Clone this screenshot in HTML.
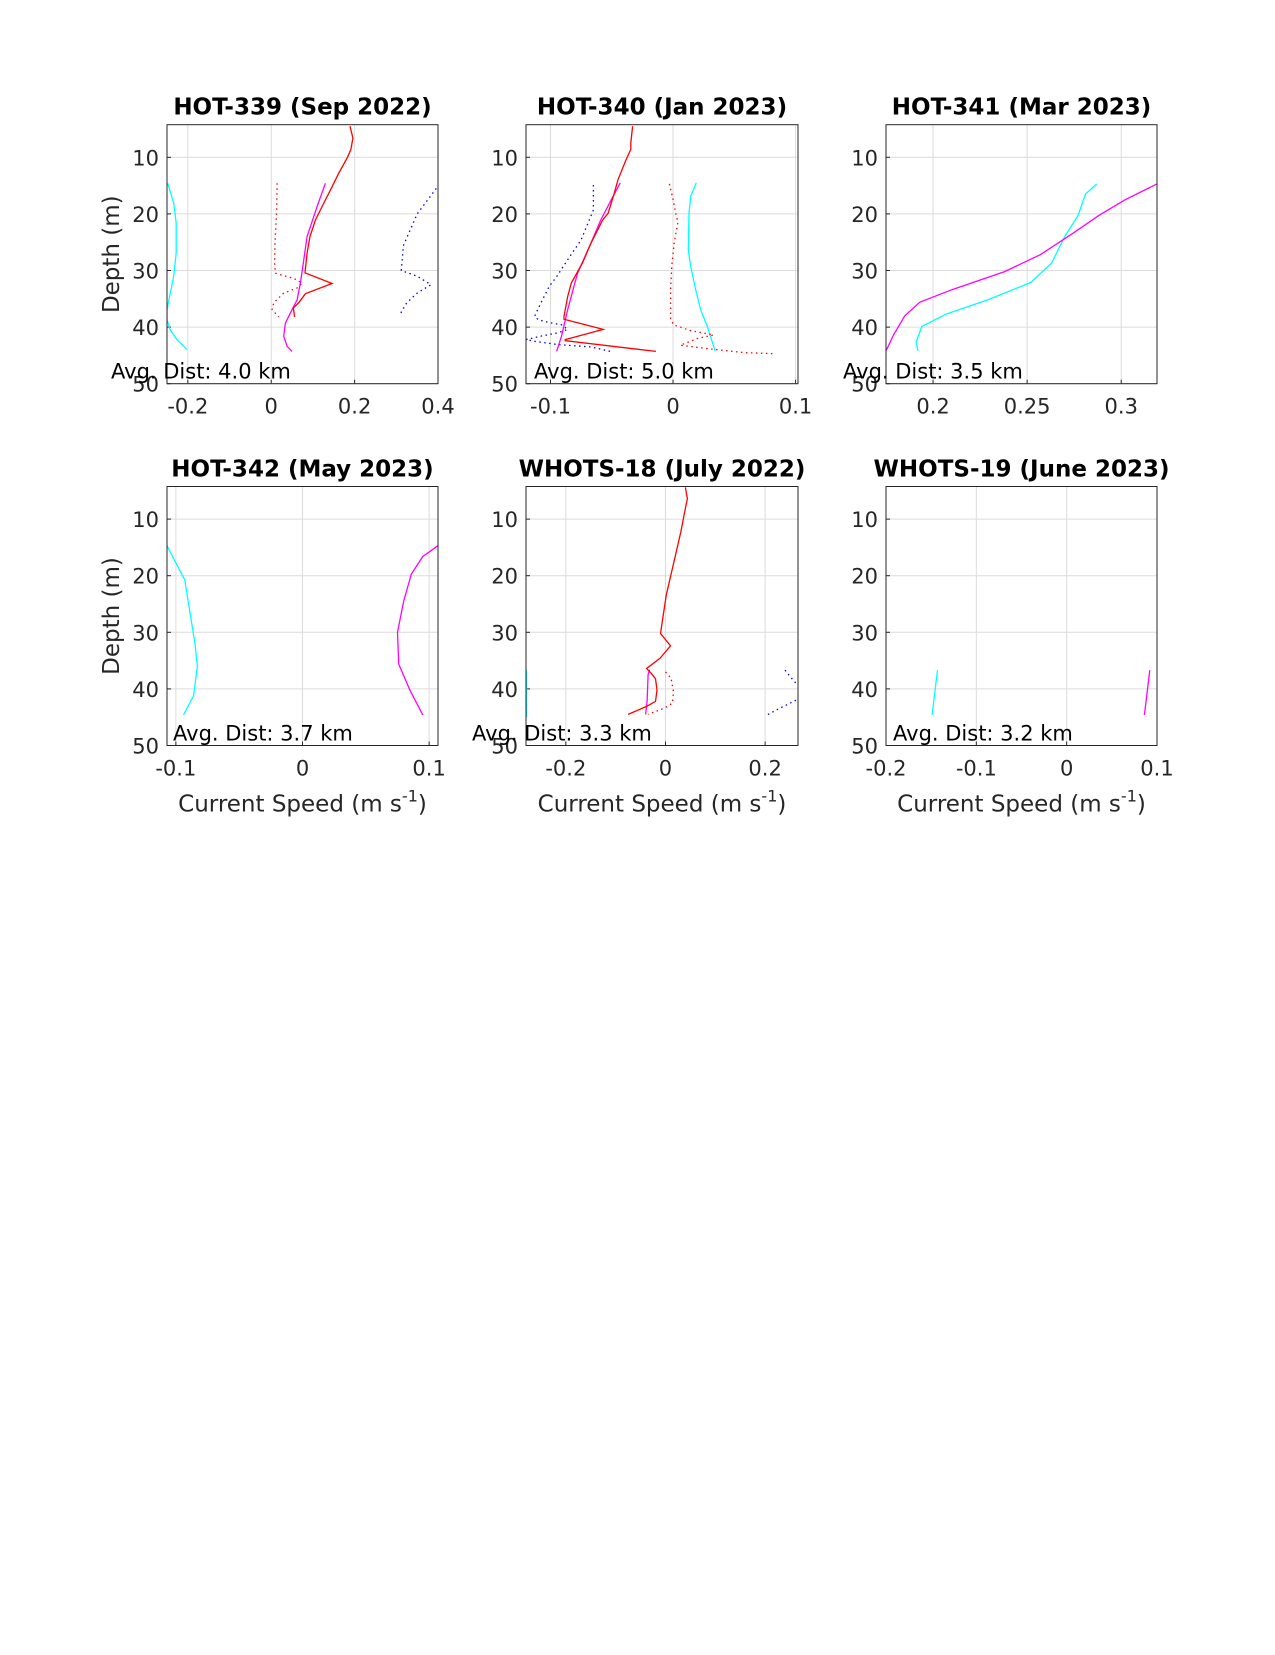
<!DOCTYPE html>
<html><head><meta charset="utf-8"><style>
body{margin:0;background:#fff;}
svg text{font-family:"DejaVu Sans","Liberation Sans",sans-serif;}
</style></head><body>
<svg id="fig" width="1275" height="1650" viewBox="0 0 1275 1650" xmlns="http://www.w3.org/2000/svg">
<rect width="1275" height="1650" fill="#fff"/>
</svg>
<script>
// ---- data (depth in m, speed in m/s) ----
const depthTicks=[10,20,30,40,50];
// Panel 1 HOT-339
const p1RedD=[4.5,6.6,8.6,10,12.8,15.2,18.7,21.1,24,26.9,30.4,32.3,34.1,35.7,36.6,38.2];
const p1RedV=[0.189,0.196,0.191,0.183,0.162,0.146,0.122,0.106,0.093,0.086,0.081,0.146,0.082,0.066,0.053,0.056];
const p1MagD=[14.6,18.7,24,28.7,32.2,35.2,36.9,39.3,41.6,43.4,44.3];
const p1MagV=[0.130,0.110,0.086,0.077,0.070,0.062,0.050,0.034,0.030,0.038,0.050];
const p1RedDotD=[14.6,19.3,25.2,28.7,30.5,31.4,32.2,33.1,34,35.7,36.9,38.2];
const p1RedDotV=[0.014,0.013,0.009,0.008,0.010,0.054,0.074,0.062,0.030,0.006,0.002,0.018];
const p1CyanD=[14.6,18.1,21.6,26.9,31,34,36.9,38.7,40.5,42.2,44];
const p1CyanV=[-0.248,-0.234,-0.228,-0.228,-0.234,-0.242,-0.25,-0.25,-0.242,-0.226,-0.202];
const p1BlueD=[15.5,20,25.6,30,31,32.5,34,35.7,38];
const p1BlueV=[0.396,0.35,0.317,0.312,0.35,0.383,0.35,0.325,0.307];
// Panel 2 HOT-340
const p2RedD=[4.5,7.5,8.6,10.5,14,16.4,19.9,21.1,25.2,28.7,32.2,34.6,38.1,38.6,40.4,42.2,42.4,44.3];
const p2RedV=[-0.033,-0.0345,-0.0345,-0.0385,-0.045,-0.048,-0.053,-0.0575,-0.067,-0.074,-0.083,-0.086,-0.089,-0.089,-0.057,-0.088,-0.088,-0.014];
const p2MagD=[14.5,16.9,21.1,25.2,30.5,36.9,41.6,44.3];
const p2MagV=[-0.043,-0.049,-0.059,-0.067,-0.078,-0.086,-0.091,-0.095];
const p2BlueD=[14.9,19.3,24.6,28.1,31.1,32.8,35.8,38.1,38.7,39.2,39.6,40.4,41,41.6,42.2,42.5,43.1,43.5,44.4];
const p2BlueV=[-0.065,-0.065,-0.075,-0.086,-0.095,-0.101,-0.108,-0.113,-0.110,-0.101,-0.091,-0.086,-0.094,-0.108,-0.12,-0.113,-0.094,-0.067,-0.049];
const p2RedDotD=[14.7,17.4,19.7,21.5,25,29.1,33.2,38.5,39.6,40.6,41.4,42,43.2,43.8,44.5,44.7];
const p2RedDotV=[-0.003,0.0,0.002,0.004,0.001,-0.001,-0.002,-0.002,0.0005,0.014,0.033,0.020,0.006,0.028,0.058,0.083];
const p2CyanD=[14.5,16.9,19.9,26.4,29.3,33.4,36.9,39.9,44.3];
const p2CyanV=[0.019,0.0144,0.013,0.0125,0.0144,0.0185,0.0225,0.028,0.0345];
// Panel 3 HOT-341
const p3MagD=[44.2,41.4,38,35.6,33.4,30.2,27.2,23.5,20.3,17.5,14.7];
const p3MagV=[0.175,0.179,0.185,0.193,0.210,0.238,0.257,0.274,0.288,0.302,0.319];
const p3CyanD=[44.2,42.7,39.9,37.7,35.2,32.1,28.7,24,20.3,16.5,14.7];
const p3CyanV=[0.192,0.191,0.194,0.207,0.229,0.252,0.263,0.270,0.277,0.281,0.287];
// Panel 4 HOT-342
const p4CyanD=[14.7,17.3,20.7,26.3,31.9,36,41.2,44.6];
const p4CyanV=[-0.107,-0.101,-0.093,-0.089,-0.085,-0.083,-0.086,-0.094];
const p4MagD=[14.7,16.6,19.7,24.4,30,35.6,40.3,44.6];
const p4MagV=[0.107,0.095,0.086,0.080,0.075,0.076,0.085,0.095];
// Panel 5 WHOTS-18
const p5RedD=[4.4,6.4,8.1,12.2,17.5,23.4,30.2,32.4,34.6,36.4,37.2,38.2,40.2,42.2,43.1,44.5];
const p5RedV=[0.040,0.044,0.040,0.031,0.017,0.0017,-0.010,0.010,-0.011,-0.038,-0.029,-0.020,-0.017,-0.020,-0.038,-0.075];
const p5MagD=[36.6,37.5,42.2,44.5];
const p5MagV=[-0.032,-0.035,-0.037,-0.040];
const p5RedDotD=[37,38.1,40.5,42.5,43.4,44.5];
const p5RedDotV=[0,0.011,0.016,0.014,-0.002,-0.035];
const p5CyanD=[36.7,45];
const p5CyanV=[-0.279,-0.279];
const p5BlueAD=[36.7,37.8,39];
const p5BlueAV=[0.24,0.25,0.262];
const p5BlueBD=[42,43.3,44.6];
const p5BlueBV=[0.262,0.232,0.204];
// Panel 6 WHOTS-19
const p6CyanD=[36.7,44.6];
const p6CyanV=[-0.143,-0.149];
const p6MagD=[36.7,44.6];
const p6MagV=[0.092,0.086];

const NS='http://www.w3.org/2000/svg';
const svg=document.getElementById('fig');
function mk(tag,attrs,parent){const e=document.createElementNS(NS,tag);for(const k in attrs)e.setAttribute(k,attrs[k]);(parent||svg).appendChild(e);return e;}

const panels=[
 {id:'hot-339',title:'HOT-339 (Sep 2022)',x0:167,x1:438,y0:124.7,xmin:-0.25,xmax:0.4,ticks:[-0.2,0,0.2,0.4],lab:['-0.2','0','0.2','0.4'],dist:'Avg. Dist: 4.0 km',tx:111,ylab:true,xlab:false,
  series:[[p1CyanV,p1CyanD,'#00ffff',0],[p1RedDotV,p1RedDotD,'#ff0000',1],[p1BlueV,p1BlueD,'#0000ff',1],[p1MagV,p1MagD,'#ff00ff',0],[p1RedV,p1RedD,'#ff0000',0]]},
 {id:'hot-340',title:'HOT-340 (Jan 2023)',x0:526,x1:798,y0:124.7,xmin:-0.12,xmax:0.102,ticks:[-0.1,0,0.1],lab:['-0.1','0','0.1'],dist:'Avg. Dist: 5.0 km',tx:534,ylab:false,xlab:false,
  series:[[p2CyanV,p2CyanD,'#00ffff',0],[p2RedDotV,p2RedDotD,'#ff0000',1],[p2BlueV,p2BlueD,'#0000ff',1],[p2MagV,p2MagD,'#ff00ff',0],[p2RedV,p2RedD,'#ff0000',0]]},
 {id:'hot-341',title:'HOT-341 (Mar 2023)',x0:886,x1:1157,y0:124.7,xmin:0.175,xmax:0.319,ticks:[0.2,0.25,0.3],lab:['0.2','0.25','0.3'],dist:'Avg. Dist: 3.5 km',tx:843,ylab:false,xlab:false,
  series:[[p3CyanV,p3CyanD,'#00ffff',0],[p3MagV,p3MagD,'#ff00ff',0]]},
 {id:'hot-342',title:'HOT-342 (May 2023)',x0:167,x1:438,y0:486.5,xmin:-0.107,xmax:0.107,ticks:[-0.1,0,0.1],lab:['-0.1','0','0.1'],dist:'Avg. Dist: 3.7 km',tx:173,ylab:true,xlab:true,
  series:[[p4CyanV,p4CyanD,'#00ffff',0],[p4MagV,p4MagD,'#ff00ff',0]]},
 {id:'whots-18',title:'WHOTS-18 (July 2022)',x0:526,x1:798,y0:486.5,xmin:-0.28,xmax:0.266,ticks:[-0.2,0,0.2],lab:['-0.2','0','0.2'],dist:'Avg. Dist: 3.3 km',tx:472,ylab:false,xlab:true,
  series:[[p5CyanV,p5CyanD,'#00ffff',0],[p5RedDotV,p5RedDotD,'#ff0000',1],[p5BlueAV,p5BlueAD,'#0000ff',1],[p5BlueBV,p5BlueBD,'#0000ff',1],[p5MagV,p5MagD,'#ff00ff',0],[p5RedV,p5RedD,'#ff0000',0]]},
 {id:'whots-19',title:'WHOTS-19 (June 2023)',x0:886,x1:1157,y0:486.5,xmin:-0.2,xmax:0.1,ticks:[-0.2,-0.1,0,0.1],lab:['-0.2','-0.1','0','0.1'],dist:'Avg. Dist: 3.2 km',tx:893,ylab:false,xlab:true,
  series:[[p6CyanV,p6CyanD,'#00ffff',0],[p6MagV,p6MagD,'#ff00ff',0]]}
];
const DMIN=4.24,DMAX=50,DPX=5.66;
panels.forEach((p,i)=>{
  const g=mk('g',{});
  
  
  const y1=p.y0+(DMAX-DMIN)*DPX;
  const xs=v=>p.x0+(v-p.xmin)/(p.xmax-p.xmin)*(p.x1-p.x0);
  const ys=d=>p.y0+(d-DMIN)*DPX;
  const cid='clip'+i;
  const cp=mk('clipPath',{id:cid},g);mk('rect',{x:p.x0,y:p.y0,width:p.x1-p.x0,height:y1-p.y0},cp);
  p.ticks.forEach((t,k)=>{const x=xs(t);
    const l=mk('line',{x1:x,x2:x,y1:p.y0,y2:y1,stroke:'#dcdcdc','stroke-width':1},g);
    
    
    mk('line',{x1:x,x2:x,y1:y1,y2:y1-4,stroke:'#262626'},g);
    const tx=mk('text',{x:x,y:y1+30,'text-anchor':'middle','font-size':21,fill:'#262626'},g);tx.textContent=p.lab[k];
    
    
  });
  depthTicks.forEach(d=>{const y=ys(d);
    const l=mk('line',{x1:p.x0,x2:p.x1,y1:y,y2:y,stroke:'#dcdcdc','stroke-width':1},g);
    
    
    mk('line',{x1:p.x0,x2:p.x0+4,y1:y,y2:y,stroke:'#262626'},g);
    const tx=mk('text',{x:p.x0-8,y:y+8,'text-anchor':'end','font-size':21,fill:'#262626'},g);tx.textContent=d;
    
    
  });
  const sg=mk('g',{'clip-path':'url(#'+cid+')'},g);
  p.series.forEach(s=>{
    const pts=s[0].map((v,k)=>xs(v).toFixed(1)+','+ys(s[1][k]).toFixed(1)).join(' ');
    const a={points:pts,fill:'none',stroke:s[2],'stroke-width':1.3};
    if(s[3])a['stroke-dasharray']='1.5,3.5';
    const pl=mk('polyline',a,sg);
    
    
  });
  const fr=mk('rect',{x:p.x0,y:p.y0,width:p.x1-p.x0,height:y1-p.y0,fill:'none',stroke:'#262626','stroke-width':1},g);
  
  
  const t=mk('text',{x:(p.x0+p.x1)/2,y:p.y0-10,'text-anchor':'middle','font-size':23,'font-weight':'bold',fill:'#000'},g);t.textContent=p.title;
  
  
  const dt=mk('text',{x:p.tx,y:y1-5,'font-size':21,fill:'#000'},g);dt.textContent=p.dist;
  
  
  if(p.ylab){const cy=(p.y0+y1)/2;
    const yl=mk('text',{x:0,y:0,transform:'translate(119,'+cy+') rotate(-90)','text-anchor':'middle','font-size':23,fill:'#262626'},g);yl.textContent='Depth (m)';
    
    }
  if(p.xlab){
    const xl=mk('text',{x:(p.x0+p.x1)/2,y:y1+66,'text-anchor':'middle','font-size':23,fill:'#262626'},g);
    xl.innerHTML='Current Speed (m s<tspan dy="-10" font-size="16">-1</tspan><tspan dy="10">)</tspan>';
    
    }
});
</script>
</body></html>
